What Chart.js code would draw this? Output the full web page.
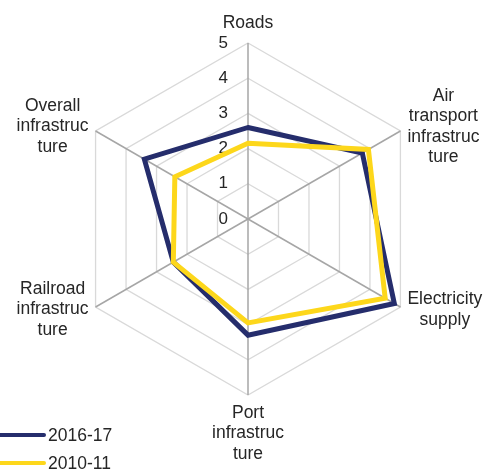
<!DOCTYPE html>
<html>
<head>
<meta charset="utf-8">
<script src="https://cdn.jsdelivr.net/npm/chart.js@4/dist/chart.umd.min.js"></script>
<style>
body{margin:0;background:#fff;}
#wrap{position:relative;width:486px;height:470px;font-family:"Liberation Sans",Arial,sans-serif;}
#legend{position:absolute;left:0;top:0;width:486px;height:470px;pointer-events:none;}
.item{position:absolute;left:0;height:22px;font-size:17.5px;color:#262626;}
.item .ln{position:absolute;left:0;top:9px;width:46px;height:4px;border-radius:0 2px 2px 0;}
.item .tx{position:absolute;left:48px;top:0;line-height:22px;white-space:nowrap;}
</style>
</head>
<body>
<div id="wrap">
<canvas id="myChart" width="486" height="470"></canvas>
<div id="legend"></div>
</div>
<script>
var labels=[["Roads"],["Air","transport","infrastruc","ture"],["Electricity","supply"],["Port","infrastruc","ture"],["Railroad","infrastruc","ture"],["Overall","infrastruc","ture"]];
var seriesNames=["2016-17","2010-11"];
var s2016=[2.6,3.75,4.8,3.3,2.45,3.4];
var s2010=[2.15,3.95,4.5,2.95,2.45,2.4];
var tickVals=[0,1,2,3,4,5];
var colors=["#252d6c","#fdd71b"];

var FONT='"Liberation Sans", Arial, sans-serif';
var TXT="#262626";

var labelPlugin={
  id:'labelPlugin',
  beforeDatasetsDraw:function(chart){
    var ctx=chart.ctx; var sc=chart.scales.r;
    ctx.save();
    ctx.font='17px '+FONT; ctx.fillStyle=TXT;
    ctx.textAlign='right'; ctx.textBaseline='middle';
    for(var i=0;i<tickVals.length;i++){
      var d=sc.getDistanceFromCenterForValue(tickVals[i]);
      ctx.fillText(String(tickVals[i]),sc.xCenter-20,sc.yCenter-d);
    }
    ctx.restore();
  },
  afterDraw:function(chart){
    var ctx=chart.ctx; var sc=chart.scales.r;
    ctx.save();
    ctx.font='17.5px '+FONT; ctx.fillStyle=TXT;
    ctx.textAlign='center'; ctx.textBaseline='middle';
    var lh=20.5;
    for(var i=0;i<labels.length;i++){
      var p=sc.getPointPosition(i,sc.drawingArea);
      var lines=labels[i];
      var w=0;
      for(var k=0;k<lines.length;k++){w=Math.max(w,ctx.measureText(lines[k]).width);}
      var x,y0;
      if(i==0){x=p.x;y0=p.y-20-(lines.length-1)*lh;}
      else if(i==3){x=p.x;y0=p.y+18;}
      else{
        x=(p.x>sc.xCenter)?p.x+7+w/2:p.x-7-w/2;
        var cy=(p.y<sc.yCenter)?p.y-4.5:p.y+2.5;
        y0=cy-(lines.length-1)*lh/2;
      }
      for(var k=0;k<lines.length;k++){ctx.fillText(lines[k],x,y0+k*lh);}
    }
    ctx.restore();
  }
};

var ctx=document.getElementById("myChart");
var myChart=new Chart(ctx,{
  type:'radar',
  data:{
    labels:labels,
    datasets:[{
      label:seriesNames[0],
      data:s2016,
      borderColor:colors[0],
      backgroundColor:'rgba(0,0,0,0)',
      borderWidth:5,
      pointRadius:0,
      fill:false,
      order:1
    },{
      label:seriesNames[1],
      data:s2010,
      borderColor:colors[1],
      backgroundColor:'rgba(0,0,0,0)',
      borderWidth:5,
      pointRadius:0,
      fill:false,
      order:0
    }]
  },
  options:{
    responsive:false,
    animation:false,
    layout:{padding:{left:72,right:62,top:43,bottom:75}},
    plugins:{legend:{display:false},tooltip:{enabled:false}},
    scales:{
      r:{
        min:0,max:5,
        ticks:{display:false,stepSize:1},
        pointLabels:{display:false},
        grid:{color:'#d9d9d9',lineWidth:1.3},
        angleLines:{color:'#a6a6a6',lineWidth:1.5}
      }
    }
  },
  plugins:[labelPlugin]
});

var lg=document.getElementById("legend");
var tops=[424,452];
for(var i=0;i<seriesNames.length;i++){
  var it=document.createElement("div");
  it.className="item"; it.style.top=tops[i]+"px";
  it.innerHTML='<div class="ln" style="background:'+colors[i]+'"></div><div class="tx">'+seriesNames[i]+'</div>';
  lg.appendChild(it);
}
</script>
</body>
</html>
